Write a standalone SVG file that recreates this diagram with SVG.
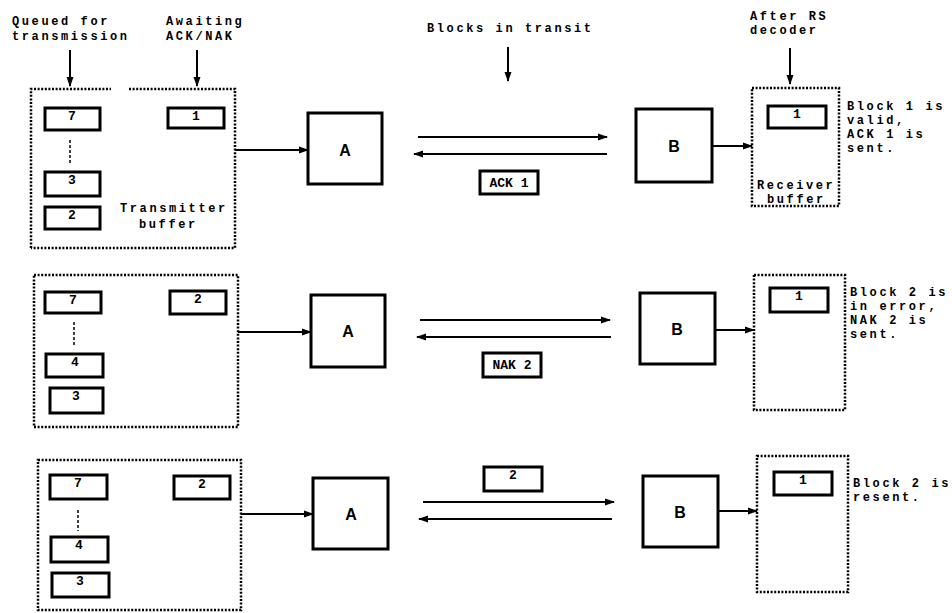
<svg xmlns="http://www.w3.org/2000/svg" width="952" height="613" viewBox="0 0 952 613">
<defs>
<marker id="ah" markerWidth="10" markerHeight="8" refX="9" refY="4" orient="auto" markerUnits="userSpaceOnUse">
<path d="M0,0.5 L10,4 L0,7.5 Z" fill="#000"/>
</marker>
<style>
.lbl{font-family:"Liberation Mono","DejaVu Sans Mono",monospace;font-weight:bold;font-size:12px;letter-spacing:2.6px;fill:#000}
.num{font-family:"Liberation Mono","DejaVu Sans Mono",monospace;font-weight:bold;font-size:13px;fill:#000;text-anchor:middle}
.big{font-family:"Liberation Sans",Arial,sans-serif;font-weight:bold;font-size:16px;fill:#000;text-anchor:middle}
.dot{fill:none;stroke:#000;stroke-width:2.5;stroke-dasharray:2 1.6}
.blk{fill:#fff;stroke:#000;stroke-width:3}
.node{fill:#fff;stroke:#000;stroke-width:3}
.ar{stroke:#000;stroke-width:2;fill:none;marker-end:url(#ah)}
.dash{stroke:#000;stroke-width:1.5;stroke-dasharray:3 2;fill:none}
</style>
</defs>
<rect width="952" height="613" fill="#fff"/>

<!-- headings -->
<g id="headings">
<text class="lbl" x="12" y="25">Queued for</text>
<text class="lbl" x="12" y="40">transmission</text>
<text class="lbl" x="166" y="25">Awaiting</text>
<text class="lbl" x="166" y="40">ACK/NAK</text>
<text class="lbl" x="427" y="32">Blocks in transit</text>
<text class="lbl" x="750" y="20">After RS</text>
<text class="lbl" x="750" y="34">decoder</text>
</g>

<!-- row 1 -->
<g id="txbuf1">
<path class="dot" d="M31,248 V89 H111 M129,89 H235 V248 H31"/>
<rect class="blk" x="45" y="108" width="55" height="22"/><text class="num" x="72" y="120">7</text>
<rect class="blk" x="168" y="108" width="56" height="20"/><text class="num" x="196" y="120">1</text>
<rect class="blk" x="45" y="172" width="55" height="24"/><text class="num" x="72" y="184">3</text>
<rect class="blk" x="45" y="207" width="55" height="22"/><text class="num" x="72" y="219">2</text>
<text class="lbl" x="120" y="212">Transmitter</text>
<text class="lbl" x="139" y="228">buffer</text>
</g>
<g id="A1"><rect class="node" x="308" y="113" width="74" height="71"/><text class="big" x="345" y="156">A</text></g>
<g id="ack1"><rect class="blk" x="480" y="171" width="58" height="23"/><text class="num" x="509" y="187">ACK 1</text></g>
<g id="B1"><rect class="node" x="636" y="109" width="76" height="73"/><text class="big" x="674" y="152">B</text></g>
<g id="rxbuf1">
<rect class="dot" x="752" y="88" width="87" height="118"/>
<rect class="blk" x="768" y="106" width="58" height="22"/><text class="num" x="797" y="118">1</text>
<text class="lbl" x="757" y="189">Receiver</text>
<text class="lbl" x="767" y="203">buffer</text>
</g>
<g id="note1">
<text class="lbl" x="847" y="110">Block 1 is</text>
<text class="lbl" x="847" y="124">valid,</text>
<text class="lbl" x="847" y="138">ACK 1 is</text>
<text class="lbl" x="847" y="152">sent.</text>
</g>

<!-- row 2 -->
<g id="txbuf2">
<rect class="dot" x="34" y="275" width="204" height="152"/>
<rect class="blk" x="45" y="292" width="56" height="21"/><text class="num" x="73" y="304">7</text>
<rect class="blk" x="170" y="291" width="56" height="23"/><text class="num" x="198" y="303">2</text>
<rect class="blk" x="46" y="354" width="57" height="23"/><text class="num" x="75" y="366">4</text>
<rect class="blk" x="50" y="388" width="53" height="25"/><text class="num" x="76" y="400">3</text>
</g>
<g id="A2"><rect class="node" x="311" y="295" width="74" height="72"/><text class="big" x="348" y="337">A</text></g>
<g id="nak2"><rect class="blk" x="483" y="353" width="58" height="24"/><text class="num" x="512" y="369">NAK 2</text></g>
<g id="B2"><rect class="node" x="640" y="293" width="75" height="71"/><text class="big" x="677" y="335">B</text></g>
<g id="rxbuf2">
<rect class="dot" x="754" y="275" width="91" height="135"/>
<rect class="blk" x="770" y="288" width="58" height="24"/><text class="num" x="799" y="300">1</text>
</g>
<g id="note2">
<text class="lbl" x="850" y="296">Block 2 is</text>
<text class="lbl" x="850" y="310">in error,</text>
<text class="lbl" x="850" y="324">NAK 2 is</text>
<text class="lbl" x="850" y="338">sent.</text>
</g>

<!-- row 3 -->
<g id="txbuf3">
<rect class="dot" x="38" y="460" width="203" height="150"/>
<rect class="blk" x="50" y="475" width="57" height="24"/><text class="num" x="78" y="487">7</text>
<rect class="blk" x="174" y="476" width="56" height="23"/><text class="num" x="202" y="488">2</text>
<rect class="blk" x="51" y="537" width="57" height="25"/><text class="num" x="79" y="549">4</text>
<rect class="blk" x="52" y="573" width="57" height="24"/><text class="num" x="80" y="585">3</text>
</g>
<g id="A3"><rect class="node" x="313" y="478" width="75" height="71"/><text class="big" x="351" y="520">A</text></g>
<g id="blk2"><rect class="blk" x="484" y="467" width="58" height="24"/><text class="num" x="513" y="479">2</text></g>
<g id="B3"><rect class="node" x="643" y="476" width="75" height="71"/><text class="big" x="680" y="518">B</text></g>
<g id="rxbuf3">
<rect class="dot" x="757" y="456" width="91" height="136"/>
<rect class="blk" x="774" y="472" width="58" height="23"/><text class="num" x="803" y="484">1</text>
</g>
<g id="note3">
<text class="lbl" x="853" y="487">Block 2 is</text>
<text class="lbl" x="853" y="501">resent.</text>
</g>

<!-- connectors -->
<g id="connectors">
<line class="ar" x1="70" y1="50" x2="70" y2="86"/>
<line class="ar" x1="197" y1="50" x2="197" y2="86"/>
<line class="ar" x1="508" y1="47" x2="508" y2="81"/>
<line class="ar" x1="790" y1="48" x2="790" y2="84"/>

<line class="dash" x1="70" y1="140" x2="70" y2="164"/>
<line class="dash" x1="74" y1="322" x2="74" y2="346"/>
<line class="dash" x1="78" y1="510" x2="78" y2="531"/>

<line class="ar" x1="235" y1="150" x2="308" y2="150"/>
<line class="ar" x1="418" y1="137" x2="607" y2="137"/>
<line class="ar" x1="607" y1="154" x2="414" y2="154"/>
<line class="ar" x1="712" y1="146" x2="752" y2="146"/>

<line class="ar" x1="238" y1="332" x2="311" y2="332"/>
<line class="ar" x1="420" y1="320" x2="610" y2="320"/>
<line class="ar" x1="611" y1="337" x2="417" y2="337"/>
<line class="ar" x1="715" y1="330" x2="754" y2="330"/>

<line class="ar" x1="241" y1="514" x2="313" y2="514"/>
<line class="ar" x1="423" y1="502" x2="614" y2="502"/>
<line class="ar" x1="612" y1="519" x2="419" y2="519"/>
<line class="ar" x1="718" y1="511" x2="757" y2="511"/>
</g>
</svg>
